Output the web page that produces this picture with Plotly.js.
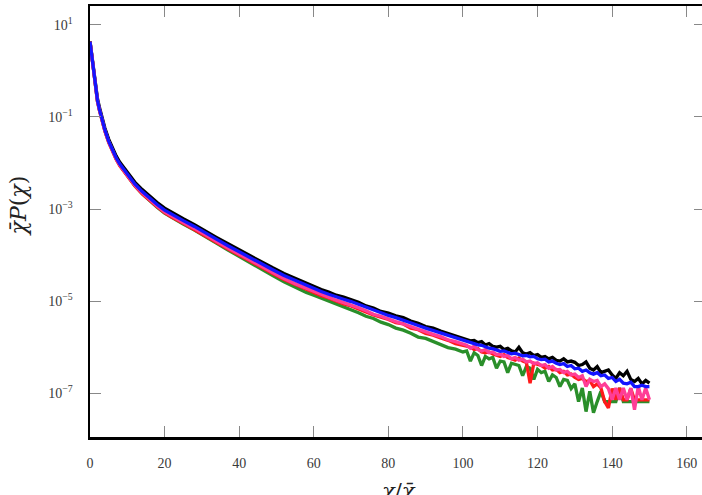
<!DOCTYPE html>
<html>
<head>
<meta charset="utf-8">
<script src="https://cdn.plot.ly/plotly-3.0.1.min.js"></script>
<style>
html,body{margin:0;padding:0;background:#fff;overflow:hidden;width:702px;height:495px;}
#chart{width:705px;height:495px;}
</style>
</head>
<body>
<div id="chart"></div>
<script>
const xVals = [0,0.25,0.5,0.75,1,1.5,2,2.5,3,4,5,6,7,8,10,12,14,16,18,20,22,25,28,31,34,37,40,43,46,49,52,55,58,
60,62,64,66,68,70,72,74,76,78,80,82,84,86,88,90,92,94,96,98,100,
101,102,103,104,105,106,107,108,109,110,111,112,113,114,115,116,117,118,119,120,
121,122,123,124,125,126,127,128,129,130,131,132,133,134,135,136,137,138,139,140,
141,142,143,144,145,146,147,148,149,150];

const blackVals = [4.4,3.1,2.2,1.4,0.93,0.45,0.25,0.165,0.11,0.057,0.033,0.021,0.0143,1.04e-2,6.2e-3,3.85e-3,2.65e-3,1.87e-3,1.39e-3,1.05e-3,8.4e-4,6.2e-4,4.6e-4,3.4e-4,2.4e-4,1.76e-4,1.29e-4,9.6e-5,7.2e-5,5.3e-5,4.0e-5,3.1e-5,2.4e-5,
2.04e-5,1.78e-5,1.58e-5,1.35e-5,1.23e-5,1.07e-5,9.5e-6,7.9e-6,7.1e-6,6.0e-6,5.5e-6,4.8e-6,4.4e-6,3.7e-6,3.3e-6,2.8e-6,2.6e-6,2.24e-6,2.0e-6,1.74e-6,1.58e-6,
1.51e-6,1.38e-6,1.41e-6,1.26e-6,1.32e-6,1.12e-6,1.2e-6,1.05e-6,1.0e-6,1.05e-6,
8.9e-7,9.5e-7,8.3e-7,7.9e-7,1.0e-6,7.6e-7,7.1e-7,7.6e-7,6.6e-7,6.9e-7,
6.0e-7,6.3e-7,5.6e-7,6.0e-7,5.2e-7,5.0e-7,5.6e-7,4.8e-7,5.0e-7,4.7e-7,
4.0e-7,4.2e-7,4.8e-7,3.5e-7,3.2e-7,3.8e-7,2.8e-7,3.0e-7,3.2e-7,2.5e-7,
2.1e-7,2.8e-7,2.4e-7,3.0e-7,2.0e-7,1.8e-7,2.1e-7,1.6e-7,1.9e-7,1.66e-7];

const greenVals = [4.3,3.0,2.1,1.3,0.85,0.41,0.22,0.145,0.097,0.050,0.029,0.018,0.0123,8.9e-3,5.2e-3,3.2e-3,2.15e-3,1.5e-3,1.1e-3,8.2e-4,6.5e-4,4.7e-4,3.5e-4,2.55e-4,1.8e-4,1.29e-4,9.3e-5,6.8e-5,5.0e-5,3.6e-5,2.65e-5,2.0e-5,1.55e-5,
1.35e-5,1.17e-5,1.0e-5,8.5e-6,7.6e-6,6.5e-6,5.6e-6,4.7e-6,4.2e-6,3.5e-6,3.1e-6,2.6e-6,2.35e-6,2.0e-6,1.66e-6,1.55e-6,1.32e-6,1.17e-6,9.8e-7,9.1e-7,7.9e-7,
8.3e-7,5.0e-7,7.6e-7,6.6e-7,4.0e-7,6.3e-7,5.6e-7,6.0e-7,3.5e-7,5.0e-7,
4.8e-7,2.8e-7,4.5e-7,4.2e-7,4.0e-7,2.4e-7,3.8e-7,3.5e-7,2.0e-7,3.3e-7,
2.8e-7,3.0e-7,1.8e-7,2.5e-7,2.2e-7,1.4e-7,2.0e-7,1.9e-7,1.26e-7,1.6e-7,
6.6e-8,1.3e-7,4.0e-8,1.1e-7,3.8e-8,6.6e-8,1.1e-7,6.6e-8,6.6e-8,6.6e-8,
6.6e-8,1.3e-7,6.6e-8,6.6e-8,6.6e-8,6.6e-8,6.6e-8,6.6e-8,6.6e-8,6.6e-8];

const redVals = [4.3,3.0,2.1,1.3,0.85,0.41,0.22,0.143,0.095,0.049,0.028,0.0175,0.012,8.7e-3,5.1e-3,3.2e-3,2.15e-3,1.52e-3,1.12e-3,8.4e-4,6.6e-4,4.9e-4,3.6e-4,2.65e-4,1.88e-4,1.36e-4,9.9e-5,7.3e-5,5.4e-5,4.0e-5,2.95e-5,2.3e-5,1.78e-5,
1.51e-5,1.32e-5,1.17e-5,1.0e-5,8.7e-6,7.9e-6,6.9e-6,5.8e-6,5.0e-6,4.5e-6,4.0e-6,3.4e-6,3.2e-6,2.6e-6,2.4e-6,2.0e-6,1.82e-6,1.58e-6,1.41e-6,1.2e-6,1.12e-6,
1.05e-6,1.0e-6,8.9e-7,9.3e-7,7.9e-7,7.6e-7,7.9e-7,7.1e-7,6.6e-7,6.3e-7,
6.9e-7,6.0e-7,5.6e-7,5.2e-7,5.8e-7,5.0e-7,4.7e-7,1.66e-7,4.5e-7,4.2e-7,
4.0e-7,3.5e-7,3.8e-7,3.2e-7,3.3e-7,2.8e-7,3.0e-7,2.5e-7,2.6e-7,2.2e-7,
2.0e-7,2.1e-7,1.8e-7,1.9e-7,1.4e-7,1.6e-7,1.3e-7,6.6e-8,4.8e-8,1.26e-7,
7.2e-8,1.3e-7,7.2e-8,7.2e-8,1.26e-7,7.2e-8,7.2e-8,7.2e-8,7.2e-8,7.2e-8];

const pinkVals = [4.3,3.0,2.1,1.3,0.86,0.41,0.22,0.145,0.097,0.050,0.029,0.018,0.0124,9.0e-3,5.3e-3,3.3e-3,2.25e-3,1.58e-3,1.16e-3,8.7e-4,6.9e-4,5.1e-4,3.8e-4,2.8e-4,1.98e-4,1.43e-4,1.04e-4,7.7e-5,5.7e-5,4.2e-5,3.1e-5,2.4e-5,1.9e-5,
1.62e-5,1.38e-5,1.23e-5,1.05e-5,9.3e-6,8.3e-6,7.2e-6,6.2e-6,5.2e-6,4.7e-6,4.2e-6,3.6e-6,3.2e-6,2.8e-6,2.45e-6,2.1e-6,1.9e-6,1.7e-6,1.45e-6,1.32e-6,1.15e-6,
1.10e-6,9.5e-7,1.05e-6,8.9e-7,8.3e-7,8.9e-7,7.6e-7,7.9e-7,6.9e-7,7.1e-7,
6.3e-7,6.6e-7,5.6e-7,6.0e-7,5.2e-7,5.5e-7,4.8e-7,5.0e-7,4.4e-7,4.6e-7,
4.0e-7,4.2e-7,3.5e-7,3.8e-7,3.2e-7,3.3e-7,2.8e-7,3.0e-7,2.5e-7,2.6e-7,
2.2e-7,2.4e-7,1.4e-7,2.0e-7,1.8e-7,1.9e-7,1.4e-7,1.6e-7,1.26e-7,7.2e-8,
1.3e-7,7.2e-8,1.3e-7,7.2e-8,1.3e-7,4.4e-8,1.4e-7,7.2e-8,1.3e-7,7.2e-8];

const blueVals = [4.3,3.0,2.1,1.3,0.87,0.42,0.23,0.15,0.10,0.052,0.030,0.019,0.013,9.5e-3,5.6e-3,3.5e-3,2.4e-3,1.7e-3,1.26e-3,9.5e-4,7.6e-4,5.6e-4,4.2e-4,3.1e-4,2.2e-4,1.6e-4,1.17e-4,8.7e-5,6.5e-5,4.8e-5,3.6e-5,2.8e-5,2.2e-5,
1.86e-5,1.62e-5,1.41e-5,1.23e-5,1.10e-5,9.8e-6,8.5e-6,7.2e-6,6.3e-6,5.5e-6,4.9e-6,4.4e-6,3.9e-6,3.4e-6,2.95e-6,2.6e-6,2.3e-6,2.0e-6,1.78e-6,1.58e-6,1.41e-6,
1.32e-6,1.26e-6,1.17e-6,1.12e-6,1.10e-6,1.0e-6,9.5e-7,9.3e-7,8.5e-7,8.1e-7,
8.3e-7,7.6e-7,7.2e-7,7.4e-7,6.8e-7,6.5e-7,6.6e-7,6.2e-7,6.3e-7,5.6e-7,
5.4e-7,5.5e-7,4.8e-7,5.0e-7,4.5e-7,4.2e-7,4.4e-7,3.8e-7,4.0e-7,3.4e-7,
3.5e-7,3.0e-7,3.2e-7,2.8e-7,2.6e-7,2.8e-7,2.4e-7,2.5e-7,2.1e-7,2.2e-7,
1.8e-7,2.0e-7,1.66e-7,1.6e-7,1.74e-7,1.4e-7,1.4e-7,1.5e-7,1.4e-7,1.4e-7];

const seriesNames = ['black','green','red','pink','blue'];
const seriesColors = ['#000000','#2a8f2a','#ff1a1a','#ff3d96','#1414ff'];
const seriesData = [blackVals, greenVals, redVals, pinkVals, blueVals];

const yTickVals = [10, 0.1, 1e-3, 1e-5, 1e-7];
const yTickText = ['10<sup>1</sup>','10<sup>\u22121</sup>','10<sup>\u22123</sup>','10<sup>\u22125</sup>','10<sup>\u22127</sup>'];
const xTickVals = [0,20,40,60,80,100,120,140,160];

const traces = seriesData.map((ys, i) => ({
  type: 'scatter', mode: 'lines', name: seriesNames[i],
  x: xVals, y: ys,
  line: {color: seriesColors[i], width: 3.3},
  hoverinfo: 'skip'
}));

const serif = 'Liberation Serif, Times New Roman, serif';
const tickFont = {family: serif, size: 14, color: '#3a3a3a'};

const layout = {
  width: 705, height: 495,
  margin: {l: 90, r: 0, t: 6, b: 58, pad: 0},
  paper_bgcolor: '#fff', plot_bgcolor: '#fff',
  showlegend: false,
  xaxis: {
    range: [0, 164.9], showgrid: false, zeroline: false,
    showline: true, linecolor: '#000', linewidth: 2.5, mirror: 'allticks',
    ticks: 'inside', ticklen: 11, tickcolor: '#888', tickwidth: 1,
    tickvals: xTickVals, ticktext: xTickVals.map(String),
    tickfont: tickFont, ticklabelstandoff: 12
  },
  yaxis: {
    type: 'log', range: [-7.95, 1.41], showgrid: false, zeroline: false,
    showline: true, linecolor: '#000', linewidth: 2.5, mirror: 'allticks',
    ticks: 'inside', ticklen: 11, tickcolor: '#888', tickwidth: 1,
    tickvals: yTickVals, ticktext: yTickText,
    tickfont: tickFont, ticklabelstandoff: 12
  },
  annotations: [
    {text: '<i>\u03C7\u0304P</i>(<i>\u03C7</i>)', xref: 'paper', yref: 'paper', x: 0, y: 0.535,
     xshift: -72, textangle: -90, showarrow: false, xanchor: 'center', yanchor: 'middle',
     font: {family: 'DejaVu Serif, serif', size: 22, color: '#222'}},
    {text: '<i>\u03C7</i>/<i>\u03C7\u0304</i>', xref: 'paper', yref: 'paper', x: 0.5, y: 0,
     yshift: -54, showarrow: false, xanchor: 'center', yanchor: 'middle',
     font: {family: 'DejaVu Serif, serif', size: 21, color: '#222'}}
  ]
};

Plotly.newPlot('chart', traces, layout, {staticPlot: true, displayModeBar: false});
</script>
</body>
</html>
